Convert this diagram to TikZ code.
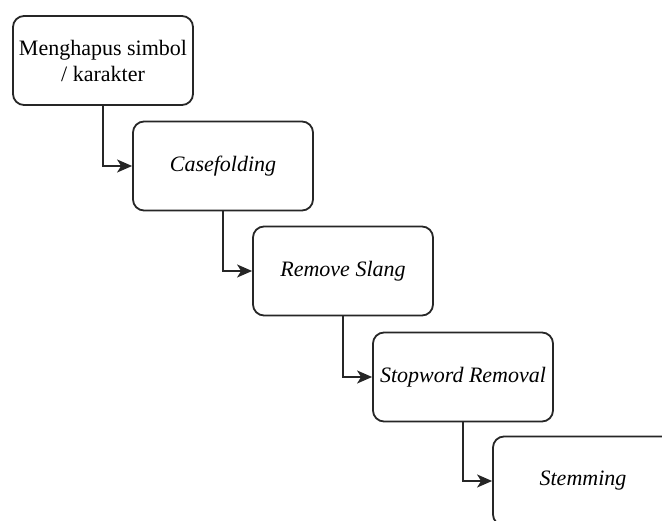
\documentclass[tikz,border=0pt]{standalone}
\usepackage{fontspec}
\setmainfont{Liberation Serif}
\newfontfamily\stagefont{Liberation Serif}
\usetikzlibrary{arrows.meta}
\begin{document}
\begin{tikzpicture}[x=1pt,y=-1pt,
  stage/.style={draw=black!85, line width=1.8pt, rounded corners=11pt,
    minimum width=180pt, minimum height=89pt, inner sep=2pt, align=center,
    font=\stagefont\fontsize{22}{26}\selectfont},
  flow/.style={line width=1.8pt, draw=black!85, -{Stealth[length=15pt,width=13pt,inset=4pt]}}]
\useasboundingbox (0,0) rectangle (662,521);
\node[stage] (s1) at (103,60.5) {Menghapus simbol\\/ karakter};
\node[stage] (s2) at (223,166) {\itshape Casefolding};
\node[stage] (s3) at (343,271) {\itshape Remove Slang};
\node[stage] (s4) at (463,377) {\itshape Stopword Removal};
\node[stage] (s5) at (583,481) {\itshape Stemming};
\draw[flow] (s1.south) |- (s2.west);
\draw[flow] (s2.south) |- (s3.west);
\draw[flow] (s3.south) |- (s4.west);
\draw[flow] (s4.south) |- (s5.west);
\end{tikzpicture}
\end{document}
